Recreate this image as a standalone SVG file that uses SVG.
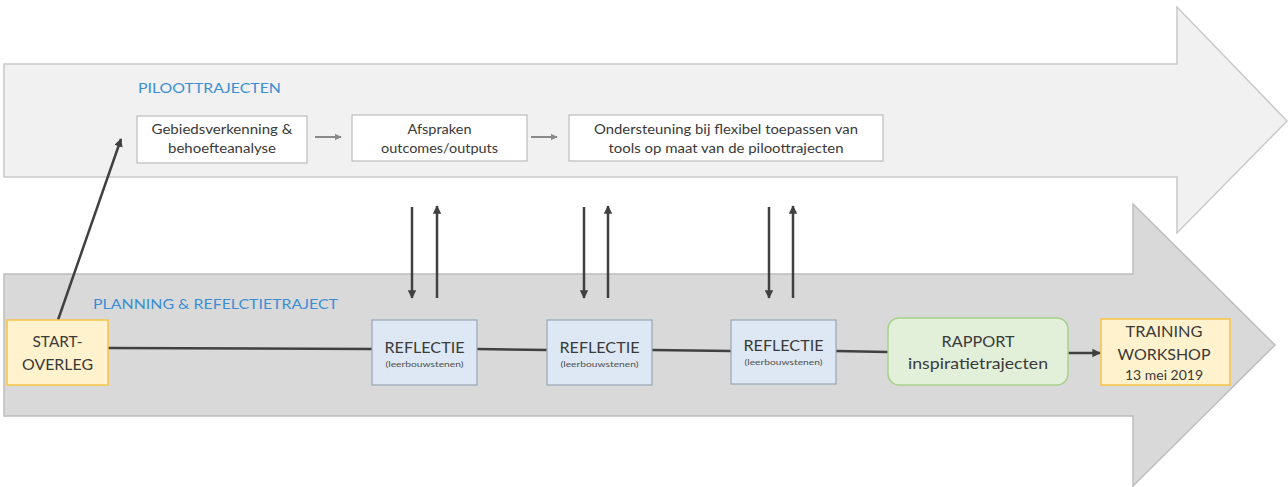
<svg xmlns="http://www.w3.org/2000/svg" width="1288" height="487" viewBox="0 0 1288 487">
<style>
.t{font-family:Lato,"Open Sans",sans-serif;fill:#3a3a3a;text-anchor:middle}
.s{font-size:8px;fill:#505050}
.box{fill:#ffffff;stroke:#bdbdbd;stroke-width:1.2}
.refl{fill:#dde8f4;stroke:#9aa6b2;stroke-width:1.2}
.yel{fill:#fff2cc;stroke:#f6c445;stroke-width:1.5}
.con{stroke:#404040;stroke-width:2.5;fill:none}
.gc{stroke:#8a8a8a;stroke-width:2;fill:none}
.blue{font-family:Lato,"Open Sans",sans-serif;fill:#3a8fd4}
</style>
<defs>
<marker id="ah" viewBox="0 0 10 10" refX="9" refY="5" markerWidth="3.4" markerHeight="3.4" orient="auto" markerUnits="strokeWidth">
<path d="M0,0 L10,5 L0,10 z" fill="#404040"/>
</marker>
<marker id="ahg" viewBox="0 0 10 10" refX="9" refY="5" markerWidth="3.6" markerHeight="3.6" orient="auto" markerUnits="strokeWidth">
<path d="M0,0 L10,5 L0,10 z" fill="#8a8a8a"/>
</marker>
</defs>
<g id="lane-top">
<path d="M4,64 L1177,64 L1177,7 L1287,121 L1177,233 L1177,177 L4,177 Z" fill="#f1f1f1" stroke="#c9c9c9" stroke-width="1.5"/>
<text class="blue" x="138" y="93" font-size="13" textLength="143" lengthAdjust="spacingAndGlyphs">PILOOTTRAJECTEN</text>
</g>
<g id="lane-bottom">
<path d="M4,274 L1133,274 L1133,204 L1275,345 L1133,486 L1133,416 L4,416 Z" fill="#d9d9d9" stroke="#bdbdbd" stroke-width="1.5"/>
<text class="blue" x="93" y="309" font-size="14" textLength="245" lengthAdjust="spacingAndGlyphs">PLANNING &amp; REFELCTIETRAJECT</text>
</g>
<g id="connectors">
<line class="gc" x1="315" y1="137" x2="341" y2="137" marker-end="url(#ahg)"/>
<line class="gc" x1="531" y1="137" x2="557" y2="137" marker-end="url(#ahg)"/>
<line class="con" x1="58" y1="320" x2="121" y2="139" marker-end="url(#ah)"/>
<line class="con" x1="108" y1="348" x2="372" y2="349"/>
<line class="con" x1="477" y1="349" x2="547" y2="350"/>
<line class="con" x1="652" y1="350" x2="731" y2="351"/>
<line class="con" x1="836" y1="351" x2="888" y2="352"/>
<line class="con" x1="1068" y1="353" x2="1100" y2="353" marker-end="url(#ah)"/>
<line class="con" x1="412" y1="207" x2="412" y2="298" marker-end="url(#ah)"/>
<line class="con" x1="437" y1="298" x2="437" y2="206" marker-end="url(#ah)"/>
<line class="con" x1="584" y1="207" x2="584" y2="298" marker-end="url(#ah)"/>
<line class="con" x1="608" y1="298" x2="608" y2="206" marker-end="url(#ah)"/>
<line class="con" x1="769" y1="207" x2="769" y2="298" marker-end="url(#ah)"/>
<line class="con" x1="793" y1="298" x2="793" y2="206" marker-end="url(#ah)"/>
</g>
<g id="n-gebied">
<rect class="box" x="137" y="116" width="170" height="47"/>
<text class="t" x="222" y="134" font-size="12.5" textLength="141" lengthAdjust="spacingAndGlyphs">Gebiedsverkenning  &amp;</text>
<text class="t" x="222" y="153" font-size="12.5" textLength="108" lengthAdjust="spacingAndGlyphs">behoefteanalyse</text>
</g>
<g id="n-afspraken">
<rect class="box" x="352" y="115" width="175" height="46"/>
<text class="t" x="439.5" y="134" font-size="12.5" textLength="64" lengthAdjust="spacingAndGlyphs">Afspraken</text>
<text class="t" x="439.5" y="153" font-size="12.5" textLength="117" lengthAdjust="spacingAndGlyphs">outcomes/outputs</text>
</g>
<g id="n-ondersteuning">
<rect class="box" x="569" y="115" width="314" height="46"/>
<text class="t" x="726" y="134" font-size="12.5" textLength="264" lengthAdjust="spacingAndGlyphs">Ondersteuning bij flexibel toepassen van</text>
<text class="t" x="726" y="153" font-size="12.5" textLength="235" lengthAdjust="spacingAndGlyphs">tools op maat van de piloottrajecten</text>
</g>
<g id="n-start">
<rect class="yel" x="7" y="320" width="101" height="65"/>
<text class="t" x="57.5" y="347" font-size="15" textLength="50" lengthAdjust="spacingAndGlyphs">START-</text>
<text class="t" x="57.5" y="370" font-size="15" textLength="71" lengthAdjust="spacingAndGlyphs">OVERLEG</text>
</g>
<g id="n-reflectie1">
<rect class="refl" x="372" y="320" width="105" height="65"/>
<text class="t" x="424.5" y="353" font-size="15" textLength="80" lengthAdjust="spacingAndGlyphs">REFLECTIE</text>
<text class="t s" x="424.5" y="367" textLength="78" lengthAdjust="spacingAndGlyphs">(leerbouwstenen)</text>
</g>
<g id="n-reflectie2">
<rect class="refl" x="547" y="320" width="105" height="65"/>
<text class="t" x="599.5" y="353" font-size="15" textLength="80" lengthAdjust="spacingAndGlyphs">REFLECTIE</text>
<text class="t s" x="599.5" y="367" textLength="78" lengthAdjust="spacingAndGlyphs">(leerbouwstenen)</text>
</g>
<g id="n-reflectie3">
<rect class="refl" x="731" y="320" width="105" height="64"/>
<text class="t" x="783.5" y="351" font-size="15" textLength="80" lengthAdjust="spacingAndGlyphs">REFLECTIE</text>
<text class="t s" x="783.5" y="365" textLength="78" lengthAdjust="spacingAndGlyphs">(leerbouwstenen)</text>
</g>
<g id="n-rapport">
<rect x="888" y="318" width="180" height="67" rx="11" fill="#e2efd9" stroke="#a9d18e" stroke-width="1.5"/>
<text class="t" x="978" y="347" font-size="15" textLength="73" lengthAdjust="spacingAndGlyphs">RAPPORT</text>
<text class="t" x="978" y="369" font-size="15" textLength="140" lengthAdjust="spacingAndGlyphs">inspiratietrajecten</text>
</g>
<g id="n-training">
<rect class="yel" x="1101" y="319" width="129" height="66"/>
<text class="t" x="1164" y="337" font-size="15" textLength="77" lengthAdjust="spacingAndGlyphs">TRAINING</text>
<text class="t" x="1164" y="360" font-size="15" textLength="93" lengthAdjust="spacingAndGlyphs">WORKSHOP</text>
<text class="t" x="1164" y="380" font-size="13" textLength="78" lengthAdjust="spacingAndGlyphs">13 mei 2019</text>
</g>
</svg>
